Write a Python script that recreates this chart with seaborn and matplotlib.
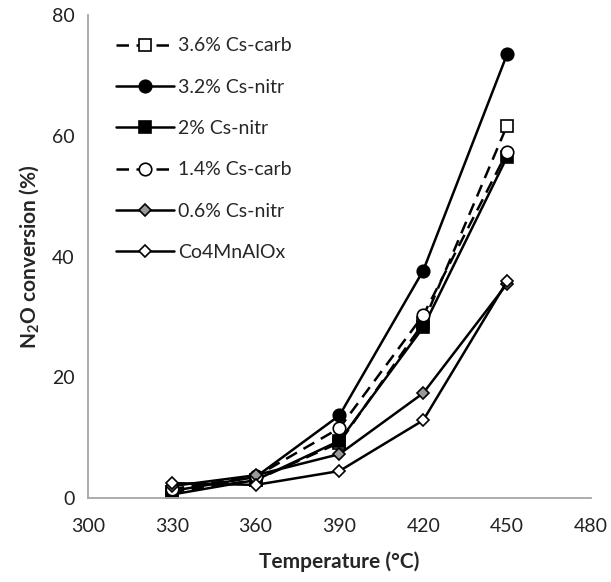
import matplotlib
matplotlib.use("Agg")
from matplotlib import pyplot as plt
import pandas as pd
import seaborn as sns

# temperatures (C)
temps = [330, 360, 390, 420, 450]

# N2O conversion (%)
cs36_carb = [1.0, 3.0, 9.2, 29.0, 61.7]
cs32_nitr = [1.2, 3.5, 13.7, 37.7, 73.5]
cs2_nitr = [0.6, 3.0, 9.5, 28.3, 56.5]
cs14_carb = [1.5, 3.6, 11.6, 30.3, 57.3]
cs06_nitr = [2.0, 3.8, 7.3, 17.4, 35.5]
co4mn = [2.5, 2.2, 4.5, 12.9, 35.9]

labels = ["3.6% Cs-carb", "3.2% Cs-nitr", "2% Cs-nitr",
          "1.4% Cs-carb", "0.6% Cs-nitr", "Co4MnAlOx"]

series = [cs36_carb, cs32_nitr, cs2_nitr, cs14_carb, cs06_nitr, co4mn]
# marker, face colour, dashed?
styles = [("s", "white", True), ("o", "black", False), ("s", "black", False),
          ("o", "white", True), ("D", "#999999", False), ("D", "white", False)]

sns.set_theme(style="white")
plt.rcParams["font.family"] = ["Lato", "DejaVu Sans"]
plt.rcParams["mathtext.fontset"] = "custom"
plt.rcParams["mathtext.bf"] = "Lato:bold"
plt.rcParams["mathtext.rm"] = "Lato:bold"
plt.rcParams["mathtext.it"] = "Lato:bold"

fig = plt.figure(figsize=(6.11, 5.82), dpi=100)
ax = fig.add_axes([0.144, 0.144, 0.823, 0.830])

for lab, vals, (mk, fc, dashed) in zip(labels, series, styles):
    df = pd.DataFrame({"T": temps, "conv": vals})
    ms = 6.5 if mk == "D" else 9
    sns.lineplot(data=df, x="T", y="conv", ax=ax, color="black",
                 linewidth=1.8, linestyle=(0, (5, 3)) if dashed else "-",
                 marker=mk, markersize=ms, markerfacecolor=fc,
                 markeredgecolor="black", markeredgewidth=1.2, label=lab)

ax.set_xlim(300, 480)
ax.set_ylim(0, 80)
ax.set_xticks(range(300, 481, 30))
ax.set_yticks(range(0, 81, 20))
for side in ["top", "right"]:
    ax.spines[side].set_visible(False)
for side in ["left", "bottom"]:
    ax.spines[side].set_color("#a6a6a6")
    ax.spines[side].set_linewidth(1.3)
ax.tick_params(axis="both", which="major", direction="out", length=6,
               width=1.3, color="#a6a6a6", labelsize=14, labelcolor="#222222")
ax.tick_params(axis="x", pad=8)

ax.set_xlabel("Temperature (°C)", fontsize=15, fontweight="bold", labelpad=12)
ax.set_ylabel(r"$\mathbf{N_2O}$ conversion (%)", fontsize=15,
              fontweight="bold", labelpad=8)

ax.legend(loc="upper left", bbox_to_anchor=(0.02, 0.99), frameon=False,
          fontsize=14, handlelength=3.0, handletextpad=0.2,
          labelspacing=1.25)

fig.savefig("out.png", dpi=100)
